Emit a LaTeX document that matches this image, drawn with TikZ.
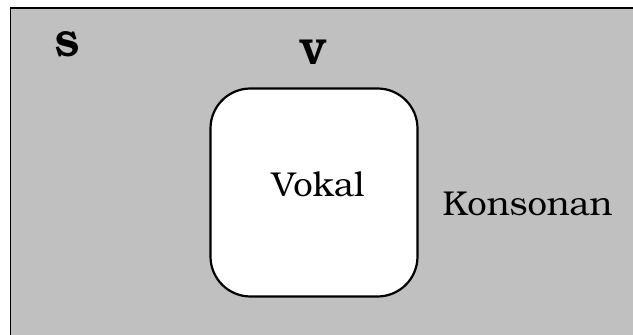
\documentclass[tikz,border=0pt]{standalone}
\usepackage[T1]{fontenc}
\usepackage{bookman}
\definecolor{bggray}{RGB}{192,192,192}
\tikzset{
  lbl/.style={inner sep=0pt, anchor=base, font=\fontsize{34.5}{40}\selectfont},
  blbl/.style={inner sep=0pt, anchor=base, font=\fontsize{36}{42}\selectfont\bfseries},
  setbox/.style={draw=black, line width=2.2pt, fill=white, rounded corners=40pt, minimum width=207pt, minimum height=208pt, inner sep=0pt}
}
\begin{document}
\begin{tikzpicture}[x=1pt,y=1pt]
\useasboundingbox (0,0) rectangle (633,335);
\begin{scope}
\clip (0,0) rectangle (633,335);
\draw[line width=1.8pt, fill=bggray] (10.5,-10) rectangle (650,327);
\end{scope}
\node[setbox] (box) at (314,142.5) {};
\node[blbl] (S) at (67,278) {S};
\node[blbl] (V) at (313,270) {V};
\node[lbl] (vokal) at (318,138) {Vokal};
\node[lbl] (konsonan) at (527.5,119) {Konsonan};
\end{tikzpicture}
\end{document}
